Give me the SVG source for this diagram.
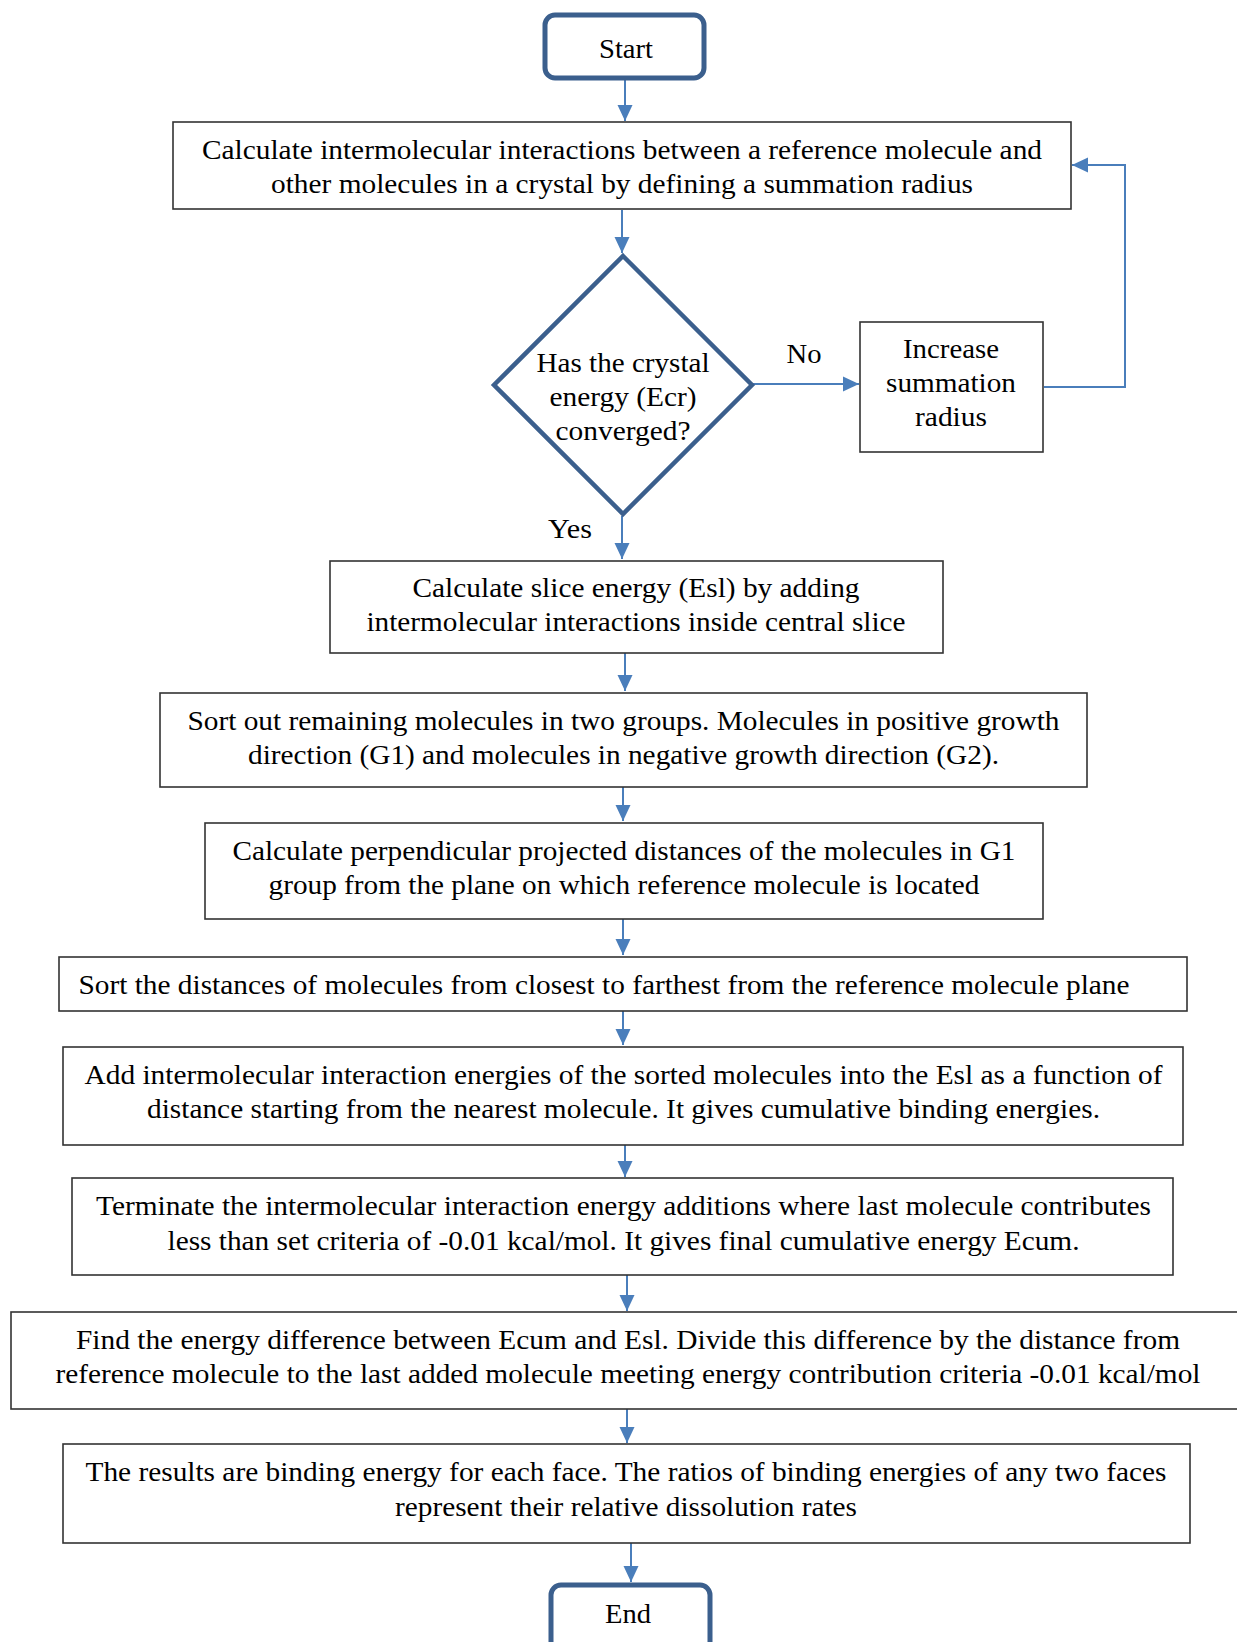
<svg xmlns="http://www.w3.org/2000/svg" width="1237" height="1642" viewBox="0 0 1237 1642">
<style>
text{font-family:"Liberation Serif","Times New Roman",serif;font-size:27px;fill:#000;text-anchor:middle}
.term{fill:#fff;stroke:#3b5f8d;stroke-width:5}
.dec{fill:#fff;stroke:#3b5f8d;stroke-width:4.5}
.box{fill:#fff;stroke:#333;stroke-width:1.6}
.conn{fill:none;stroke:#4a7ebb;stroke-width:2}
</style>
<defs>
<marker id="ah" markerUnits="userSpaceOnUse" markerWidth="16" markerHeight="16" viewBox="0 0 16 16" refX="16" refY="8" orient="auto">
<path d="M0,0.5 L16,8 L0,15.5 Z" fill="#4a7ebb"/>
</marker>
</defs>
<g id="connectors">
<line class="conn" x1="625" y1="80" x2="625" y2="121" marker-end="url(#ah)"/>
<line class="conn" x1="622" y1="210" x2="622" y2="253" marker-end="url(#ah)"/>
<line class="conn" x1="752" y1="384" x2="859" y2="384" marker-end="url(#ah)"/>
<polyline class="conn" points="1044,387 1125,387 1125,165 1072,165" marker-end="url(#ah)"/>
<line class="conn" x1="622" y1="516" x2="622" y2="559" marker-end="url(#ah)"/>
<line class="conn" x1="625" y1="653" x2="625" y2="691" marker-end="url(#ah)"/>
<line class="conn" x1="623" y1="787" x2="623" y2="821" marker-end="url(#ah)"/>
<line class="conn" x1="623" y1="919" x2="623" y2="955" marker-end="url(#ah)"/>
<line class="conn" x1="623" y1="1011" x2="623" y2="1045" marker-end="url(#ah)"/>
<line class="conn" x1="625" y1="1145" x2="625" y2="1177" marker-end="url(#ah)"/>
<line class="conn" x1="627" y1="1275" x2="627" y2="1311" marker-end="url(#ah)"/>
<line class="conn" x1="627" y1="1409" x2="627" y2="1443" marker-end="url(#ah)"/>
<line class="conn" x1="631" y1="1543" x2="631" y2="1582" marker-end="url(#ah)"/>
<text x="804" y="363" textLength="35" lengthAdjust="spacingAndGlyphs">No</text>
<text x="570" y="538" textLength="44" lengthAdjust="spacingAndGlyphs">Yes</text>
</g>
<g id="start">
<rect class="term" x="545" y="15" width="159" height="63" rx="10"/>
<text x="626" y="58" textLength="54" lengthAdjust="spacingAndGlyphs">Start</text>
</g>
<g id="calc-interactions">
<rect class="box" x="173" y="122" width="898" height="87"/>
<text x="622" y="159" textLength="840" lengthAdjust="spacingAndGlyphs">Calculate intermolecular interactions between a reference molecule and</text>
<text x="622" y="193" textLength="702" lengthAdjust="spacingAndGlyphs">other molecules in a crystal by defining a summation radius</text>
</g>
<g id="converged">
<polygon class="dec" points="623,256 752,385 623,514 494,385"/>
<text x="623" y="372" textLength="173" lengthAdjust="spacingAndGlyphs">Has the crystal</text>
<text x="623" y="406" textLength="147" lengthAdjust="spacingAndGlyphs">energy (Ecr)</text>
<text x="623" y="440" textLength="135" lengthAdjust="spacingAndGlyphs">converged?</text>
</g>
<g id="increase">
<rect class="box" x="860" y="322" width="183" height="130"/>
<text x="951" y="358" textLength="96" lengthAdjust="spacingAndGlyphs">Increase</text>
<text x="951" y="392" textLength="130" lengthAdjust="spacingAndGlyphs">summation</text>
<text x="951" y="426" textLength="72" lengthAdjust="spacingAndGlyphs">radius</text>
</g>
<g id="slice-energy">
<rect class="box" x="330" y="561" width="613" height="92"/>
<text x="636" y="597" textLength="447" lengthAdjust="spacingAndGlyphs">Calculate slice energy (Esl) by adding</text>
<text x="636" y="631" textLength="539" lengthAdjust="spacingAndGlyphs">intermolecular interactions inside central slice</text>
</g>
<g id="sort-groups">
<rect class="box" x="160" y="693" width="927" height="94"/>
<text x="623.5" y="730" textLength="872" lengthAdjust="spacingAndGlyphs">Sort out remaining molecules in two groups. Molecules in positive growth</text>
<text x="623.5" y="764" textLength="751" lengthAdjust="spacingAndGlyphs">direction (G1) and molecules in negative growth direction (G2).</text>
</g>
<g id="distances">
<rect class="box" x="205" y="823" width="838" height="96"/>
<text x="624" y="860" textLength="783" lengthAdjust="spacingAndGlyphs">Calculate perpendicular projected distances of the molecules in G1</text>
<text x="624" y="894" textLength="711" lengthAdjust="spacingAndGlyphs">group from the plane on which reference molecule is located</text>
</g>
<g id="sort-distances">
<rect class="box" x="59" y="957" width="1128" height="54"/>
<text x="78.5" y="994" style="text-anchor:start" textLength="1051" lengthAdjust="spacingAndGlyphs">Sort the distances of molecules from closest to farthest from the reference molecule plane</text>
</g>
<g id="add-energies">
<rect class="box" x="63" y="1047" width="1120" height="98"/>
<text x="623.5" y="1084" textLength="1078" lengthAdjust="spacingAndGlyphs">Add intermolecular interaction energies of the sorted molecules into the Esl as a function of</text>
<text x="623.5" y="1118" textLength="953" lengthAdjust="spacingAndGlyphs">distance starting from the nearest molecule. It gives cumulative binding energies.</text>
</g>
<g id="terminate">
<rect class="box" x="72" y="1178" width="1101" height="97"/>
<text x="623.5" y="1215" textLength="1055" lengthAdjust="spacingAndGlyphs">Terminate the intermolecular interaction energy additions where last molecule contributes</text>
<text x="623.5" y="1250" textLength="912" lengthAdjust="spacingAndGlyphs">less than set criteria of -0.01 kcal/mol. It gives final cumulative energy Ecum.</text>
</g>
<g id="difference">
<rect class="box" x="11" y="1312" width="1250" height="97"/>
<text x="628" y="1349" textLength="1104" lengthAdjust="spacingAndGlyphs">Find the energy difference between Ecum and Esl. Divide this difference by the distance from</text>
<text x="628" y="1383" textLength="1145" lengthAdjust="spacingAndGlyphs">reference molecule to the last added molecule meeting energy contribution criteria -0.01 kcal/mol</text>
</g>
<g id="results">
<rect class="box" x="63" y="1444" width="1127" height="99"/>
<text x="626" y="1481" textLength="1081" lengthAdjust="spacingAndGlyphs">The results are binding energy for each face. The ratios of binding energies of any two faces</text>
<text x="626" y="1516" textLength="462" lengthAdjust="spacingAndGlyphs">represent their relative dissolution rates</text>
</g>
<g id="end">
<rect class="term" x="551" y="1585" width="159" height="75" rx="10"/>
<text x="628" y="1623" textLength="46" lengthAdjust="spacingAndGlyphs">End</text>
</g>
</svg>
